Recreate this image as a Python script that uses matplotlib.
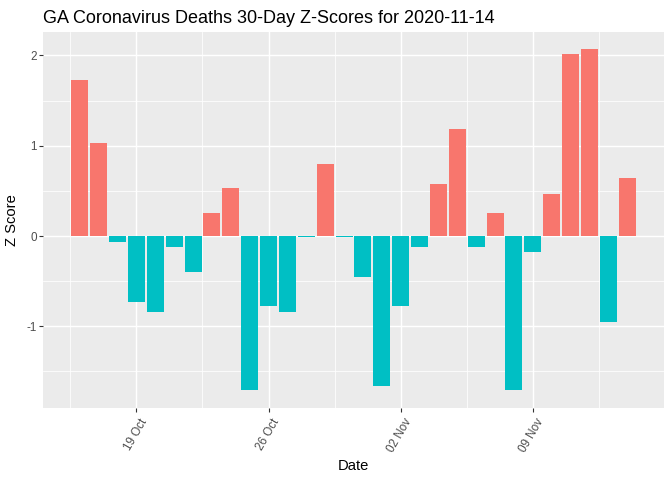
import matplotlib
matplotlib.use("Agg")
import matplotlib.pyplot as plt
import matplotlib.dates as mdates
import matplotlib.transforms as mtransforms
import numpy as np
import pandas as pd

# ---- data ----
dates = pd.date_range("2020-10-16", "2020-11-14", freq="D")
z_scores = [1.73, 1.03, -0.07, -0.73, -0.84, -0.12, -0.40, 0.25, 0.53, -1.71,
            -0.78, -0.84, -0.015, 0.80, -0.015, -0.45, -1.66, -0.78, -0.12, 0.58,
            1.19, -0.12, 0.25, -1.71, -0.18, 0.47, 2.01, 2.07, -0.95, 0.64]
tick_dates = ["2020-10-19", "2020-10-26", "2020-11-02", "2020-11-09"]
minor_dates = ["2020-10-15 12:00", "2020-10-22 12:00", "2020-10-29 12:00",
               "2020-11-05 12:00", "2020-11-12 12:00"]
title = "GA Coronavirus Deaths 30-Day Z-Scores for 2020-11-14"

pos_color = "#F8766D"
neg_color = "#00BFC4"

plt.rcParams['font.family'] = ['Liberation Sans', 'DejaVu Sans']

fig = plt.figure(figsize=(6.72, 4.8), dpi=100)
L, R, T, B = 43, 664, 32, 407.5
ax = fig.add_axes([L / 672, 1 - B / 480, (R - L) / 672, (B - T) / 480])
ax.set_facecolor("#EBEBEB")

x = mdates.date2num(dates)
z = np.array(z_scores)
colors = [pos_color if v > 0 else neg_color for v in z]
ax.bar(x, z, width=0.9, color=colors, zorder=3, linewidth=0)

# limits with ggplot-like expansion
xmin, xmax = x.min() - 0.45, x.max() + 0.45
xr = xmax - xmin
ax.set_xlim(xmin - 0.05 * xr, xmax + 0.05 * xr)
ymin, ymax = min(z.min(), 0), max(z.max(), 0)
yr = ymax - ymin
ax.set_ylim(ymin - 0.05 * yr, ymax + 0.05 * yr)

major_x = mdates.date2num(pd.to_datetime(tick_dates))
minor_x = mdates.date2num(pd.to_datetime(minor_dates))
ax.set_xticks(major_x)
ax.set_xticklabels([d.strftime("%d %b") for d in pd.to_datetime(tick_dates)])
ax.set_xticks(minor_x, minor=True)
ax.set_yticks([-1, 0, 1, 2])
ax.set_yticklabels(["-1", "0", "1", "2"])
ax.set_yticks([-1.5, -0.5, 0.5, 1.5], minor=True)

ax.grid(which="major", color="white", linewidth=1.07, zorder=0)
ax.grid(which="minor", color="white", linewidth=0.55, zorder=0)
ax.set_axisbelow(True)
for s in ax.spines.values():
    s.set_visible(False)

ax.tick_params(which="major", length=2.7, width=0.8, color="#333333",
               labelsize=8.4, labelcolor="#4D4D4D", pad=1.8)
ax.tick_params(which="minor", length=0)
offset = mtransforms.ScaledTranslation(3 / 100, -3 / 100, fig.dpi_scale_trans)
for lab in ax.get_xticklabels():
    lab.set_rotation(60)
    lab.set_ha("right")
    lab.set_va("top")
    lab.set_rotation_mode("anchor")
    lab.set_transform(lab.get_transform() + offset)

fig.text(L / 672, 1 - 23 / 480, title, fontsize=13, color="black",
         ha="left", va="baseline")
fig.text((L + R) / 2 / 672, 1 - 470 / 480, "Date", fontsize=10.6,
         ha="center", va="baseline")
fig.text(12 / 672, 1 - (T + B) / 2 / 480, "Z Score", fontsize=10.6,
         rotation=90, ha="center", va="center")

fig.savefig("out.png", dpi=100)
